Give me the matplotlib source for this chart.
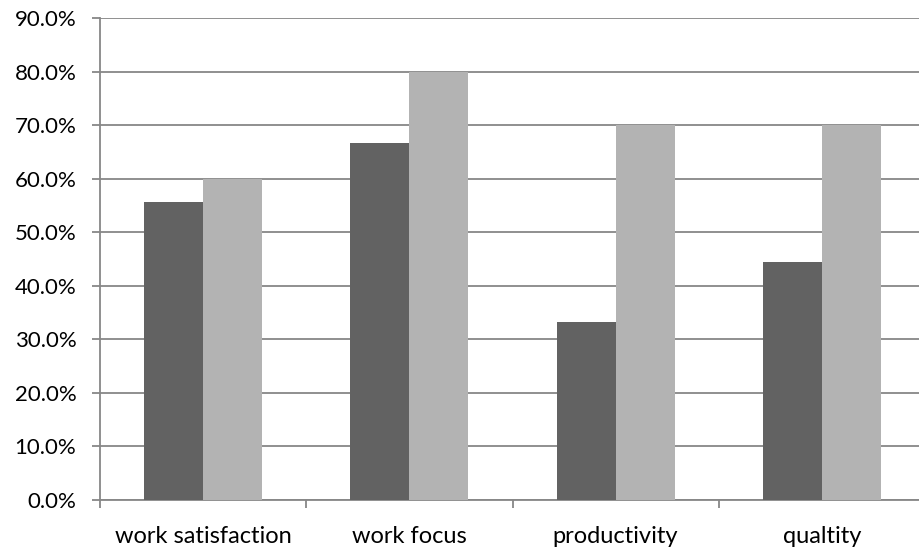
import matplotlib
matplotlib.use("Agg")
import matplotlib.pyplot as plt
from matplotlib.ticker import FuncFormatter, FixedLocator

categories = ["work satisfaction", "work focus", "productivity", "qualtity"]
series_a = [55.6, 66.7, 33.3, 44.4]
series_b = [60.0, 80.0, 70.0, 70.0]
yticks = [0, 10, 20, 30, 40, 50, 60, 70, 80, 90]

DARK = "#626262"
LIGHT = "#b3b3b3"
GRID = "#878787"

plt.rcParams["font.family"] = ["Lato", "DejaVu Sans"]

fig = plt.figure(figsize=(9.19, 5.54), dpi=100)
ax = fig.add_axes([100 / 919, (554 - 500) / 554, 825 / 919, 482 / 554])

x = range(len(categories))
w = 0.286
ax.bar([i - w / 2 for i in x], series_a, width=w, color=DARK, zorder=3)
ax.bar([i + w / 2 for i in x], series_b, width=w, color=LIGHT, zorder=3)

ax.set_xlim(-0.5, len(categories) - 0.5)
ax.set_ylim(0, 90)
ax.set_yticks(yticks)
ax.yaxis.set_major_formatter(FuncFormatter(lambda v, _: f"{v:.1f}%"))
ax.yaxis.grid(True, color=GRID, lw=1.3, zorder=0)

ax.set_xticks(list(x))
ax.set_xticklabels(categories)
ax.tick_params(axis="x", length=0, pad=18.5, labelsize=17, colors="black")
ax.xaxis.set_minor_locator(FixedLocator([i - 0.5 for i in range(len(categories) + 1)]))
ax.tick_params(axis="x", which="minor", length=6, width=1.3, color=GRID)
ax.tick_params(axis="y", length=6, width=1.3, color=GRID, labelsize=16, pad=11)

for side in ("top", "right"):
    ax.spines[side].set_visible(False)
for side in ("left", "bottom"):
    ax.spines[side].set_color(GRID)
    ax.spines[side].set_linewidth(1.3)

fig.savefig("out.png", dpi=100)
